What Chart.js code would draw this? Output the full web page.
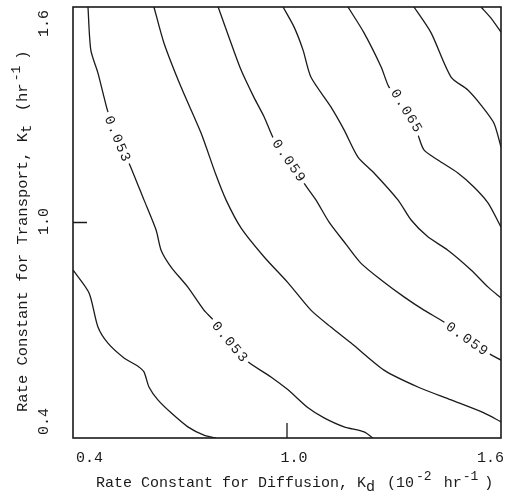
<!DOCTYPE html>
<html>
<head>
<meta charset="utf-8">
<script src="https://cdn.jsdelivr.net/npm/chart.js@4.4.1/dist/chart.umd.min.js"></script>
<style>
  html, body { margin: 0; padding: 0; background: #fff; }
  canvas { display: block; }
</style>
</head>
<body>
<canvas id="contour" width="506" height="494"></canvas>
<script>
// Axis ranges and tick labels
const xTicks = [0.4, 1.0, 1.6];
const yTicks = [0.4, 1.0, 1.6];
const xTickText = ['0.4', '1.0', '1.6'];
const yTickText = ['0.4', '1.0', '1.6'];

// Contour levels (response surface), low to high
const levels = [0.050, 0.053, 0.056, 0.059, 0.062, 0.065, 0.068, 0.071];

// Contour traces: K_d (x, 10^-2 hr^-1) and K_t (y, hr^-1)
const c050X = [0.400, 0.445, 0.470, 0.498, 0.543, 0.582, 0.599, 0.613, 0.638, 0.675, 0.722, 0.767, 0.801];
const c050Y = [0.868, 0.804, 0.709, 0.664, 0.623, 0.600, 0.584, 0.542, 0.506, 0.470, 0.431, 0.408, 0.400];

const c053X = [0.442, 0.450, 0.470, 0.487, 0.498, 0.526, 0.557, 0.599, 0.633, 0.647, 0.675, 0.722, 0.767, 0.793, 0.840, 0.891, 0.955, 1.003, 1.059, 1.104, 1.160, 1.216, 1.241];
const c053Y = [1.600, 1.480, 1.416, 1.349, 1.308, 1.235, 1.166, 1.063, 0.979, 0.923, 0.876, 0.820, 0.756, 0.729, 0.670, 0.612, 0.570, 0.534, 0.484, 0.456, 0.431, 0.417, 0.400];

const c056X = [0.627, 0.655, 0.703, 0.759, 0.801, 0.829, 0.871, 0.936, 1.003, 1.067, 1.123, 1.179, 1.272, 1.367, 1.460, 1.552, 1.600];
const c056Y = [1.600, 1.500, 1.377, 1.249, 1.132, 1.063, 0.985, 0.904, 0.832, 0.756, 0.709, 0.665, 0.589, 0.542, 0.506, 0.470, 0.445];

const c059X = [0.807, 0.835, 0.871, 0.907, 0.936, 0.964, 1.006, 1.045, 1.081, 1.118, 1.165, 1.207, 1.264, 1.328, 1.384, 1.440, 1.505, 1.563, 1.600];
const c059Y = [1.600, 1.522, 1.425, 1.349, 1.294, 1.230, 1.174, 1.113, 1.063, 1.001, 0.940, 0.887, 0.840, 0.793, 0.756, 0.723, 0.678, 0.637, 0.617];

const c062X = [0.989, 1.020, 1.045, 1.067, 1.123, 1.160, 1.199, 1.244, 1.311, 1.348, 1.395, 1.451, 1.516, 1.564, 1.600];
const c062Y = [1.600, 1.544, 1.480, 1.405, 1.322, 1.258, 1.182, 1.138, 1.063, 1.007, 0.960, 0.923, 0.868, 0.820, 0.790];

const c065X = [1.171, 1.216, 1.264, 1.286, 1.336, 1.367, 1.384, 1.423, 1.479, 1.524, 1.564, 1.600];
const c065Y = [1.600, 1.528, 1.433, 1.377, 1.313, 1.244, 1.202, 1.174, 1.138, 1.099, 1.054, 0.987];

const c068X = [1.356, 1.404, 1.460, 1.507, 1.544, 1.580, 1.600];
const c068Y = [1.600, 1.528, 1.405, 1.369, 1.327, 1.277, 1.210];

const c071X = [1.544, 1.572, 1.600];
const c071Y = [1.600, 1.569, 1.530];

const contourX = [c050X, c053X, c056X, c059X, c062X, c065X, c068X, c071X];
const contourY = [c050Y, c053Y, c056Y, c059Y, c062Y, c065Y, c068Y, c071Y];

// In-line contour labels: which level, and where along its trace
const labelLevel = [1, 1, 3, 3, 5];
const labelX = [0.526, 0.840, 1.006, 1.505, 1.336];
const labelY = [1.235, 0.670, 1.174, 0.678, 1.313];

const MONO = '"Liberation Mono", "DejaVu Sans Mono", monospace';
const INK = '#1a1a1a';

// Draw a run of text pieces (for sub/superscripts) starting at (x, y) on the baseline
function drawRich(ctx, pieces, x, y) {
  let cx = x;
  for (const p of pieces) {
    cx += p.gap || 0;
    ctx.font = p.size + 'px ' + MONO;
    ctx.fillText(p.t, cx, y + (p.dy || 0));
    cx += ctx.measureText(p.t).width;
  }
}

const frame = {
  id: 'frame',
  afterDatasetsDraw(chart) {
    const { ctx, chartArea: a, scales } = chart;
    const xs = scales.x, ys = scales.y;
    ctx.save();

    // contour labels with a gap cut in the line
    ctx.font = '14px ' + MONO;
    ctx.letterSpacing = '1.5px';
    ctx.textAlign = 'center';
    ctx.textBaseline = 'middle';
    labelLevel.forEach((li, k) => {
      const px = xs.getPixelForValue(labelX[k]);
      const py = ys.getPixelForValue(labelY[k]);
      const cxs = contourX[li], cys = contourY[li];
      let best = 0, bd = Infinity;
      cxs.forEach((v, i) => {
        const d = Math.hypot(xs.getPixelForValue(v) - px, ys.getPixelForValue(cys[i]) - py);
        if (d < bd) { bd = d; best = i; }
      });
      const i0 = Math.max(0, best - 1), i1 = Math.min(cxs.length - 1, best + 1);
      const ang = Math.atan2(
        ys.getPixelForValue(cys[i1]) - ys.getPixelForValue(cys[i0]),
        xs.getPixelForValue(cxs[i1]) - xs.getPixelForValue(cxs[i0]));
      const txt = levels[li].toFixed(3);
      const w = ctx.measureText(txt).width;
      ctx.save();
      ctx.translate(px, py);
      ctx.rotate(ang);
      ctx.fillStyle = '#fff';
      ctx.fillRect(-w / 2 - 3, -7, w + 6, 14);
      ctx.fillStyle = INK;
      ctx.fillText(txt, 1, 1);
      ctx.restore();
    });
    ctx.letterSpacing = '0px';

    // plot frame
    ctx.strokeStyle = INK;
    ctx.lineWidth = 1.6;
    ctx.strokeRect(a.left, a.top, a.right - a.left, a.bottom - a.top);

    // inward tick marks at the middle values
    ctx.lineWidth = 1.3;
    const tx = xs.getPixelForValue(xTicks[1]);
    const ty = ys.getPixelForValue(yTicks[1]);
    ctx.beginPath();
    ctx.moveTo(tx, a.bottom); ctx.lineTo(tx, a.bottom - 15);
    ctx.moveTo(a.left, ty); ctx.lineTo(a.left + 14, ty);
    ctx.stroke();

    // tick labels
    ctx.fillStyle = INK;
    ctx.font = '15px ' + MONO;
    ctx.textBaseline = 'alphabetic';
    const tickBase = a.bottom + 24;
    xTicks.forEach((v, i) => {
      const p = xs.getPixelForValue(v);
      ctx.textAlign = i === 0 ? 'left' : (i === xTicks.length - 1 ? 'right' : 'center');
      const off = i === 0 ? 3 : (i === xTicks.length - 1 ? 3 : 7);
      ctx.fillText(xTickText[i], p + off, tickBase);
    });
    yTicks.forEach((v, i) => {
      const p = ys.getPixelForValue(v);
      ctx.save();
      ctx.translate(a.left - 25, p);
      ctx.rotate(-Math.PI / 2);
      ctx.textAlign = i === 0 ? 'left' : (i === yTicks.length - 1 ? 'right' : 'center');
      const off = i === 0 ? 3 : (i === yTicks.length - 1 ? -3 : 1);
      ctx.fillText(yTickText[i], off, 0);
      ctx.restore();
    });

    // axis titles
    ctx.textAlign = 'left';
    drawRich(ctx, [
      { t: 'Rate Constant for Diffusion, K', size: 15 },
      { t: 'd', size: 15, dy: 4 },
      { t: ' (10', size: 15, gap: 3 },
      { t: '-2', size: 13, dy: -7, gap: 2 },
      { t: ' hr', size: 15, gap: 3 },
      { t: '-1', size: 13, dy: -7, gap: 1 },
      { t: ')', size: 15, gap: 6 }
    ], a.left + 23, a.bottom + 49);

    ctx.save();
    ctx.translate(a.left - 46, a.bottom - 26);
    ctx.rotate(-Math.PI / 2);
    drawRich(ctx, [
      { t: 'Rate Constant for Transport, K', size: 15.5 },
      { t: 't', size: 14, dy: 4 },
      { t: ' (hr', size: 15.5, gap: 4 },
      { t: '-1', size: 13, dy: -7, gap: 2 },
      { t: ')', size: 15.5, gap: 6 }
    ], 0, 0);
    ctx.restore();

    ctx.restore();
  }
};

const datasets = contourX.map((xsArr, i) => ({
  label: levels[i].toFixed(3),
  data: xsArr.map((x, j) => ({ x, y: contourY[i][j] })),
  showLine: true,
  borderColor: INK,
  borderWidth: 1.3,
  pointRadius: 0,
  tension: 0.25,
  fill: false
}));

new Chart(document.getElementById('contour'), {
  type: 'scatter',
  data: { datasets },
  options: {
    responsive: false,
    animation: false,
    events: [],
    layout: { padding: { left: 73, top: 7, right: 5, bottom: 56 } },
    plugins: { legend: { display: false }, tooltip: { enabled: false } },
    scales: {
      x: { type: 'linear', min: xTicks[0], max: xTicks[2], display: false },
      y: { type: 'linear', min: yTicks[0], max: yTicks[2], display: false }
    }
  },
  plugins: [frame]
});
</script>
</body>
</html>
